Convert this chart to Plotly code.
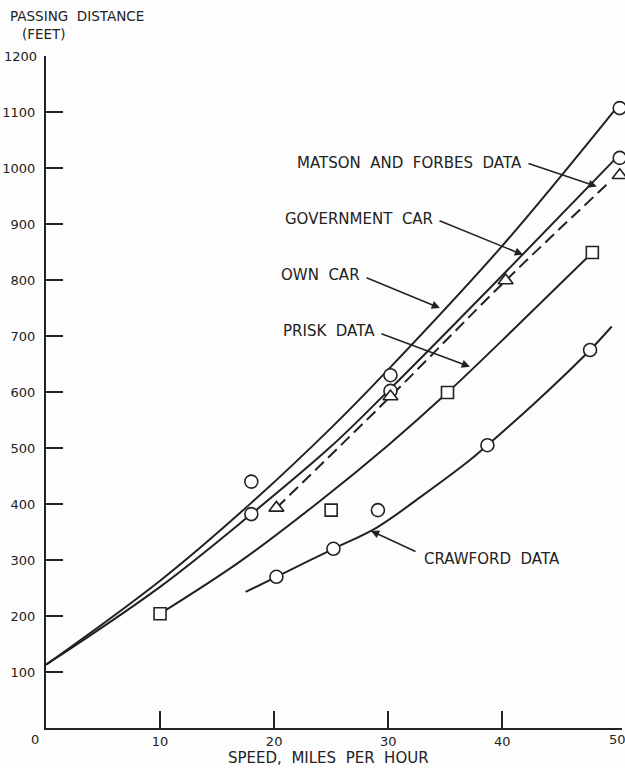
import plotly.graph_objects as go

# speed (mph) / passing distance (ft)
own_car_x = [0, 10, 18, 25, 30, 40, 50]
own_car_y = [113, 263, 402, 536, 640, 861, 1107]
own_pts_x = [18, 30.2, 50.3]
own_pts_y = [440, 630, 1107]

gov_car_x = [0, 10, 18, 25, 30, 40, 50]
gov_car_y = [113, 252, 382, 503, 602, 808, 1018]
gov_pts_x = [18, 30.2, 50.3]
gov_pts_y = [382, 602, 1018]

matson_x = [20.2, 30.2, 40.3, 49.3]
matson_y = [393, 592, 799, 973]
matson_pts_x = [20.2, 30.2, 40.3, 50.3]
matson_pts_y = [393, 592, 799, 987]

prisk_x = [10, 17, 24, 30, 35.2, 41, 47.9]
prisk_y = [204, 297, 405, 505, 599, 712, 849]
prisk_pts_x = [10, 25, 35.2, 47.9]
prisk_pts_y = [204, 389, 599, 849]

crawford_x = [17.5, 20.2, 25.2, 29, 33, 37.2, 38.7, 43, 47.7, 49.6]
crawford_y = [243, 270, 320, 358, 415, 479, 505, 583, 675, 717]
crawford_pts_x = [20.2, 25.2, 29.1, 38.7, 47.7]
crawford_pts_y = [270, 320, 389, 505, 675]

x_ticks = [10, 20, 30, 40]
y_ticks = [100, 200, 300, 400, 500, 600, 700, 800, 900, 1000, 1100]

INK = '#222222'
FONT = 'DejaVu Sans'
SP = '\u00a0 '   # wide word gap like the hand lettering

fig = go.Figure()

# fitted curves
for cx, cy, dash in [(own_car_x, own_car_y, 'solid'),
                     (gov_car_x, gov_car_y, 'solid'),
                     (prisk_x, prisk_y, 'solid'),
                     (crawford_x, crawford_y, 'solid'),
                     (matson_x, matson_y, '12px,6px')]:
    fig.add_trace(go.Scatter(x=cx, y=cy, mode='lines',
                             line=dict(color=INK, width=2, dash=dash,
                                       shape='spline'),
                             cliponaxis=False, hoverinfo='skip'))

# observed points, open markers (white filled so the curve stops at the rim)
for px_, py_, sym, size in [(own_pts_x, own_pts_y, 'circle', 13),
                            (gov_pts_x, gov_pts_y, 'circle', 13),
                            (crawford_pts_x, crawford_pts_y, 'circle', 13),
                            (matson_pts_x, matson_pts_y, 'triangle-up', 13),
                            (prisk_pts_x, prisk_pts_y, 'square', 12)]:
    fig.add_trace(go.Scatter(x=px_, y=py_, mode='markers',
                             marker=dict(symbol=sym, size=size, color='white',
                                         line=dict(color=INK, width=1.6)),
                             cliponaxis=False))

# curve labels and their leader arrows
labels = [(SP.join(['MATSON', 'AND', 'FORBES', 'DATA']), 41.9, 1009, 'right', 42.17, 1009, 48.28, 967),
          (SP.join(['GOVERNMENT', 'CAR']), 34.1, 909, 'right', 34.37, 907, 41.82, 845),
          (SP.join(['OWN', 'CAR']), 27.7, 809, 'right', 27.97, 805, 34.54, 750),
          (SP.join(['PRISK', 'DATA']), 29.0, 709, 'right', 29.28, 705, 37.17, 645),
          (SP.join(['CRAWFORD', 'DATA']), 32.97, 302, 'left', 32.53, 314, 28.49, 352)]
for text, tx, ty, anchor, ax, ay, hx, hy in labels:
    fig.add_annotation(x=tx, y=ty, text=text, showarrow=False,
                       xanchor=anchor, yanchor='middle',
                       font=dict(family=FONT, size=15, color=INK))
    fig.add_annotation(x=hx, y=hy, ax=ax, ay=ay, axref='x', ayref='y',
                       text='', showarrow=True, arrowhead=2, arrowsize=1.1,
                       arrowwidth=1.5, arrowcolor=INK)

# axis title and end labels (outside the axis ranges, so paper coords)
edge_text = [('PASSING' + SP + 'DISTANCE', -0.066, 1.060, 'left', 13.5),
             ('(FEET)', -0.045, 1.033, 'left', 13.5),
             ('1200', -0.0122, 1.0, 'right', 13),
             ('0', -0.019, -0.0164, 'center', 13),
             ('50', 0.993, -0.0164, 'center', 13),
             (SP.join(['SPEED,', 'MILES', 'PER', 'HOUR']), 0.491, -0.0446, 'center', 15)]
for text, x, y, anchor, size in edge_text:
    fig.add_annotation(x=x, y=y, xref='paper', yref='paper', text=text,
                       showarrow=False, xanchor=anchor, yanchor='middle',
                       font=dict(family=FONT, size=size, color=INK))

fig.update_xaxes(range=[0, 50.5], tickvals=x_ticks, ticks='inside', ticklen=17,
                 tickwidth=2, tickcolor=INK, showline=True, linewidth=2,
                 linecolor=INK, showgrid=False, zeroline=False,
                 tickfont=dict(family=FONT, size=13, color=INK))
fig.update_yaxes(range=[0, 1200], tickvals=y_ticks, ticks='inside', ticklen=17,
                 tickwidth=2, tickcolor=INK, showline=True, linewidth=2,
                 linecolor=INK, showgrid=False, zeroline=False,
                 ticklabelstandoff=6,
                 tickfont=dict(family=FONT, size=13, color=INK))

fig.update_layout(width=625, height=768, showlegend=False,
                  margin=dict(l=46, r=3, t=56, b=40),
                  plot_bgcolor='#fdfdfd', paper_bgcolor='#fdfdfd')

fig.write_html("out.html", config={'displayModeBar': False},
               post_script="document.body.style.margin = '0';")
